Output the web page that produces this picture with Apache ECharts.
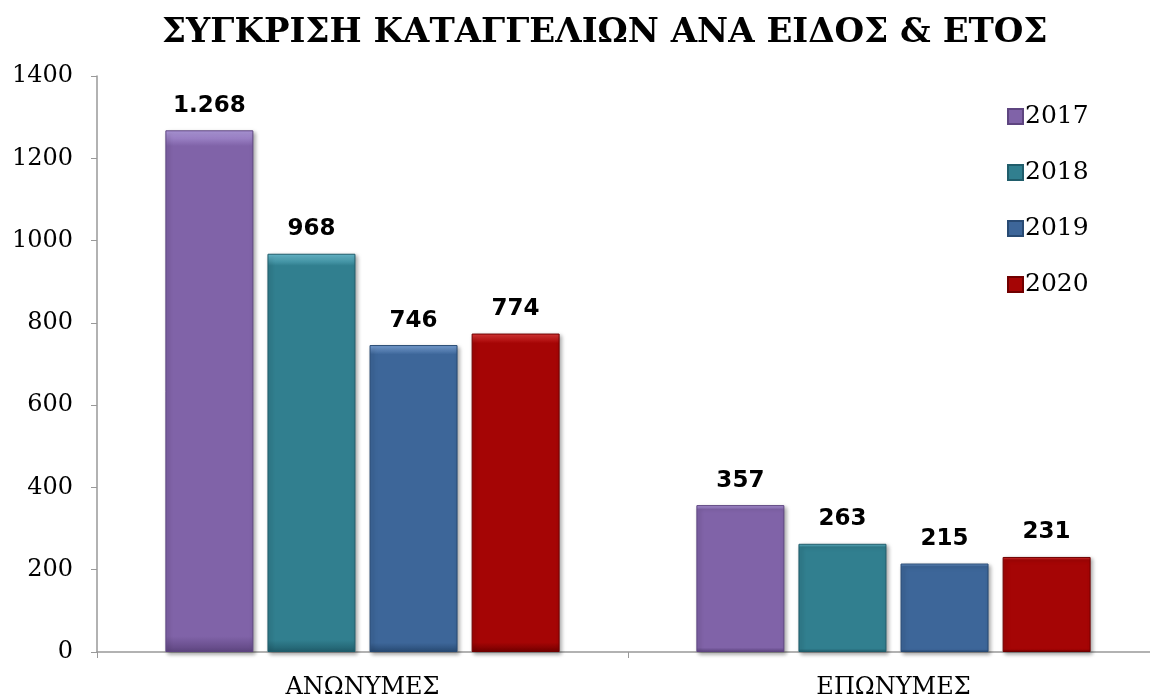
<!DOCTYPE html>
<html>
<head>
<meta charset="utf-8">
<script src="https://cdn.jsdelivr.net/npm/echarts@6/dist/echarts.min.js"></script>
<style>
  html, body { margin: 0; padding: 0; background: #fff; }
  #main { width: 1150px; height: 695px; }
</style>
</head>
<body>
<div id="main"></div>
<script>
// 类目和数据
const categories = ['ΑΝΩΝΥΜΕΣ', 'ΕΠΩΝΥΜΕΣ']
const years = ['2017', '2018', '2019', '2020']
const values2017 = [1268, 357]
const values2018 = [968, 263]
const values2019 = [746, 215]
const values2020 = [774, 231]
const yTicks = [0, 200, 400, 600, 800, 1000, 1200, 1400]

const seriesData = [values2017, values2018, values2019, values2020]
const colors = ['#8063a8', '#317f8f', '#3d6699', '#a50505']
const tops = ['#b39de0', '#6cc0d3', '#7ea7dc', '#e03a3a']
const borders = ['#5e4580', '#205d6b', '#284a73', '#700000']

// 千位分隔用点号
function fmt(v) {
  return String(v).replace(/\B(?=(\d{3})+(?!\d))/g, '.')
}

const myChart = echarts.init(document.querySelector('#main'))

const option = {
  animation: false,
  title: {
    text: 'ΣΥΓΚΡΙΣΗ ΚΑΤΑΓΓΕΛΙΩΝ ΑΝΑ ΕΙΔΟΣ & ΕΤΟΣ',
    left: 157,
    top: 11,
    textStyle: {
      fontFamily: 'DejaVu Serif',
      fontWeight: 'bold',
      fontSize: 34,
      color: '#000'
    }
  },
  legend: {
    orient: 'vertical',
    left: 1002,
    top: 99,
    itemGap: 31,
    itemWidth: 15,
    itemHeight: 15,
    icon: 'rect',
    data: years,
    textStyle: { fontFamily: 'DejaVu Serif', fontSize: 25, lineHeight: 25, color: '#000', padding: [0, 0, 0, -3] }
  },
  grid: {
    left: 97,
    right: -9,
    top: 76,
    bottom: 43,
    outerBoundsMode: 'none'
  },
  xAxis: {
    type: 'category',
    data: categories,
    axisLine: { lineStyle: { color: '#999', width: 1.5 } },
    axisTick: { show: true, length: 6, lineStyle: { color: '#999' } },
    axisLabel: { fontFamily: 'DejaVu Serif', fontSize: 24, color: '#000', margin: 24 }
  },
  yAxis: {
    type: 'value',
    min: yTicks[0],
    max: yTicks[yTicks.length - 1],
    interval: 200,
    axisLine: { show: true, lineStyle: { color: '#999', width: 1.5 } },
    axisTick: { show: true, length: 6, lineStyle: { color: '#999' } },
    splitLine: { show: false },
    axisLabel: {
      fontFamily: 'DejaVu Serif',
      fontSize: 24,
      color: '#000',
      margin: 24,
      formatter: v => String(v)
    }
  },
  series: years.map((y, i) => ({
    name: y,
    type: 'bar',
    data: seriesData[i],
    barWidth: 88,
    barGap: '16%',
    itemStyle: {
      color: {
        type: 'linear', x: 0, y: 0, x2: 0, y2: 1,
        colorStops: [
          { offset: 0, color: tops[i] },
          { offset: 0.03, color: colors[i] },
          { offset: 0.97, color: colors[i] },
          { offset: 1, color: borders[i] }
        ]
      },
      borderColor: borders[i],
      borderWidth: 1,
      shadowColor: 'rgba(0,0,0,0.35)',
      shadowBlur: 4,
      shadowOffsetX: 2,
      shadowOffsetY: 2
    },
    label: {
      show: true,
      position: 'top',
      distance: 13,
      fontFamily: 'DejaVu Sans',
      fontWeight: 'bold',
      fontSize: 23,
      color: '#000',
      formatter: p => fmt(p.value)
    }
  }))
}

myChart.setOption(option)
</script>
</body>
</html>
